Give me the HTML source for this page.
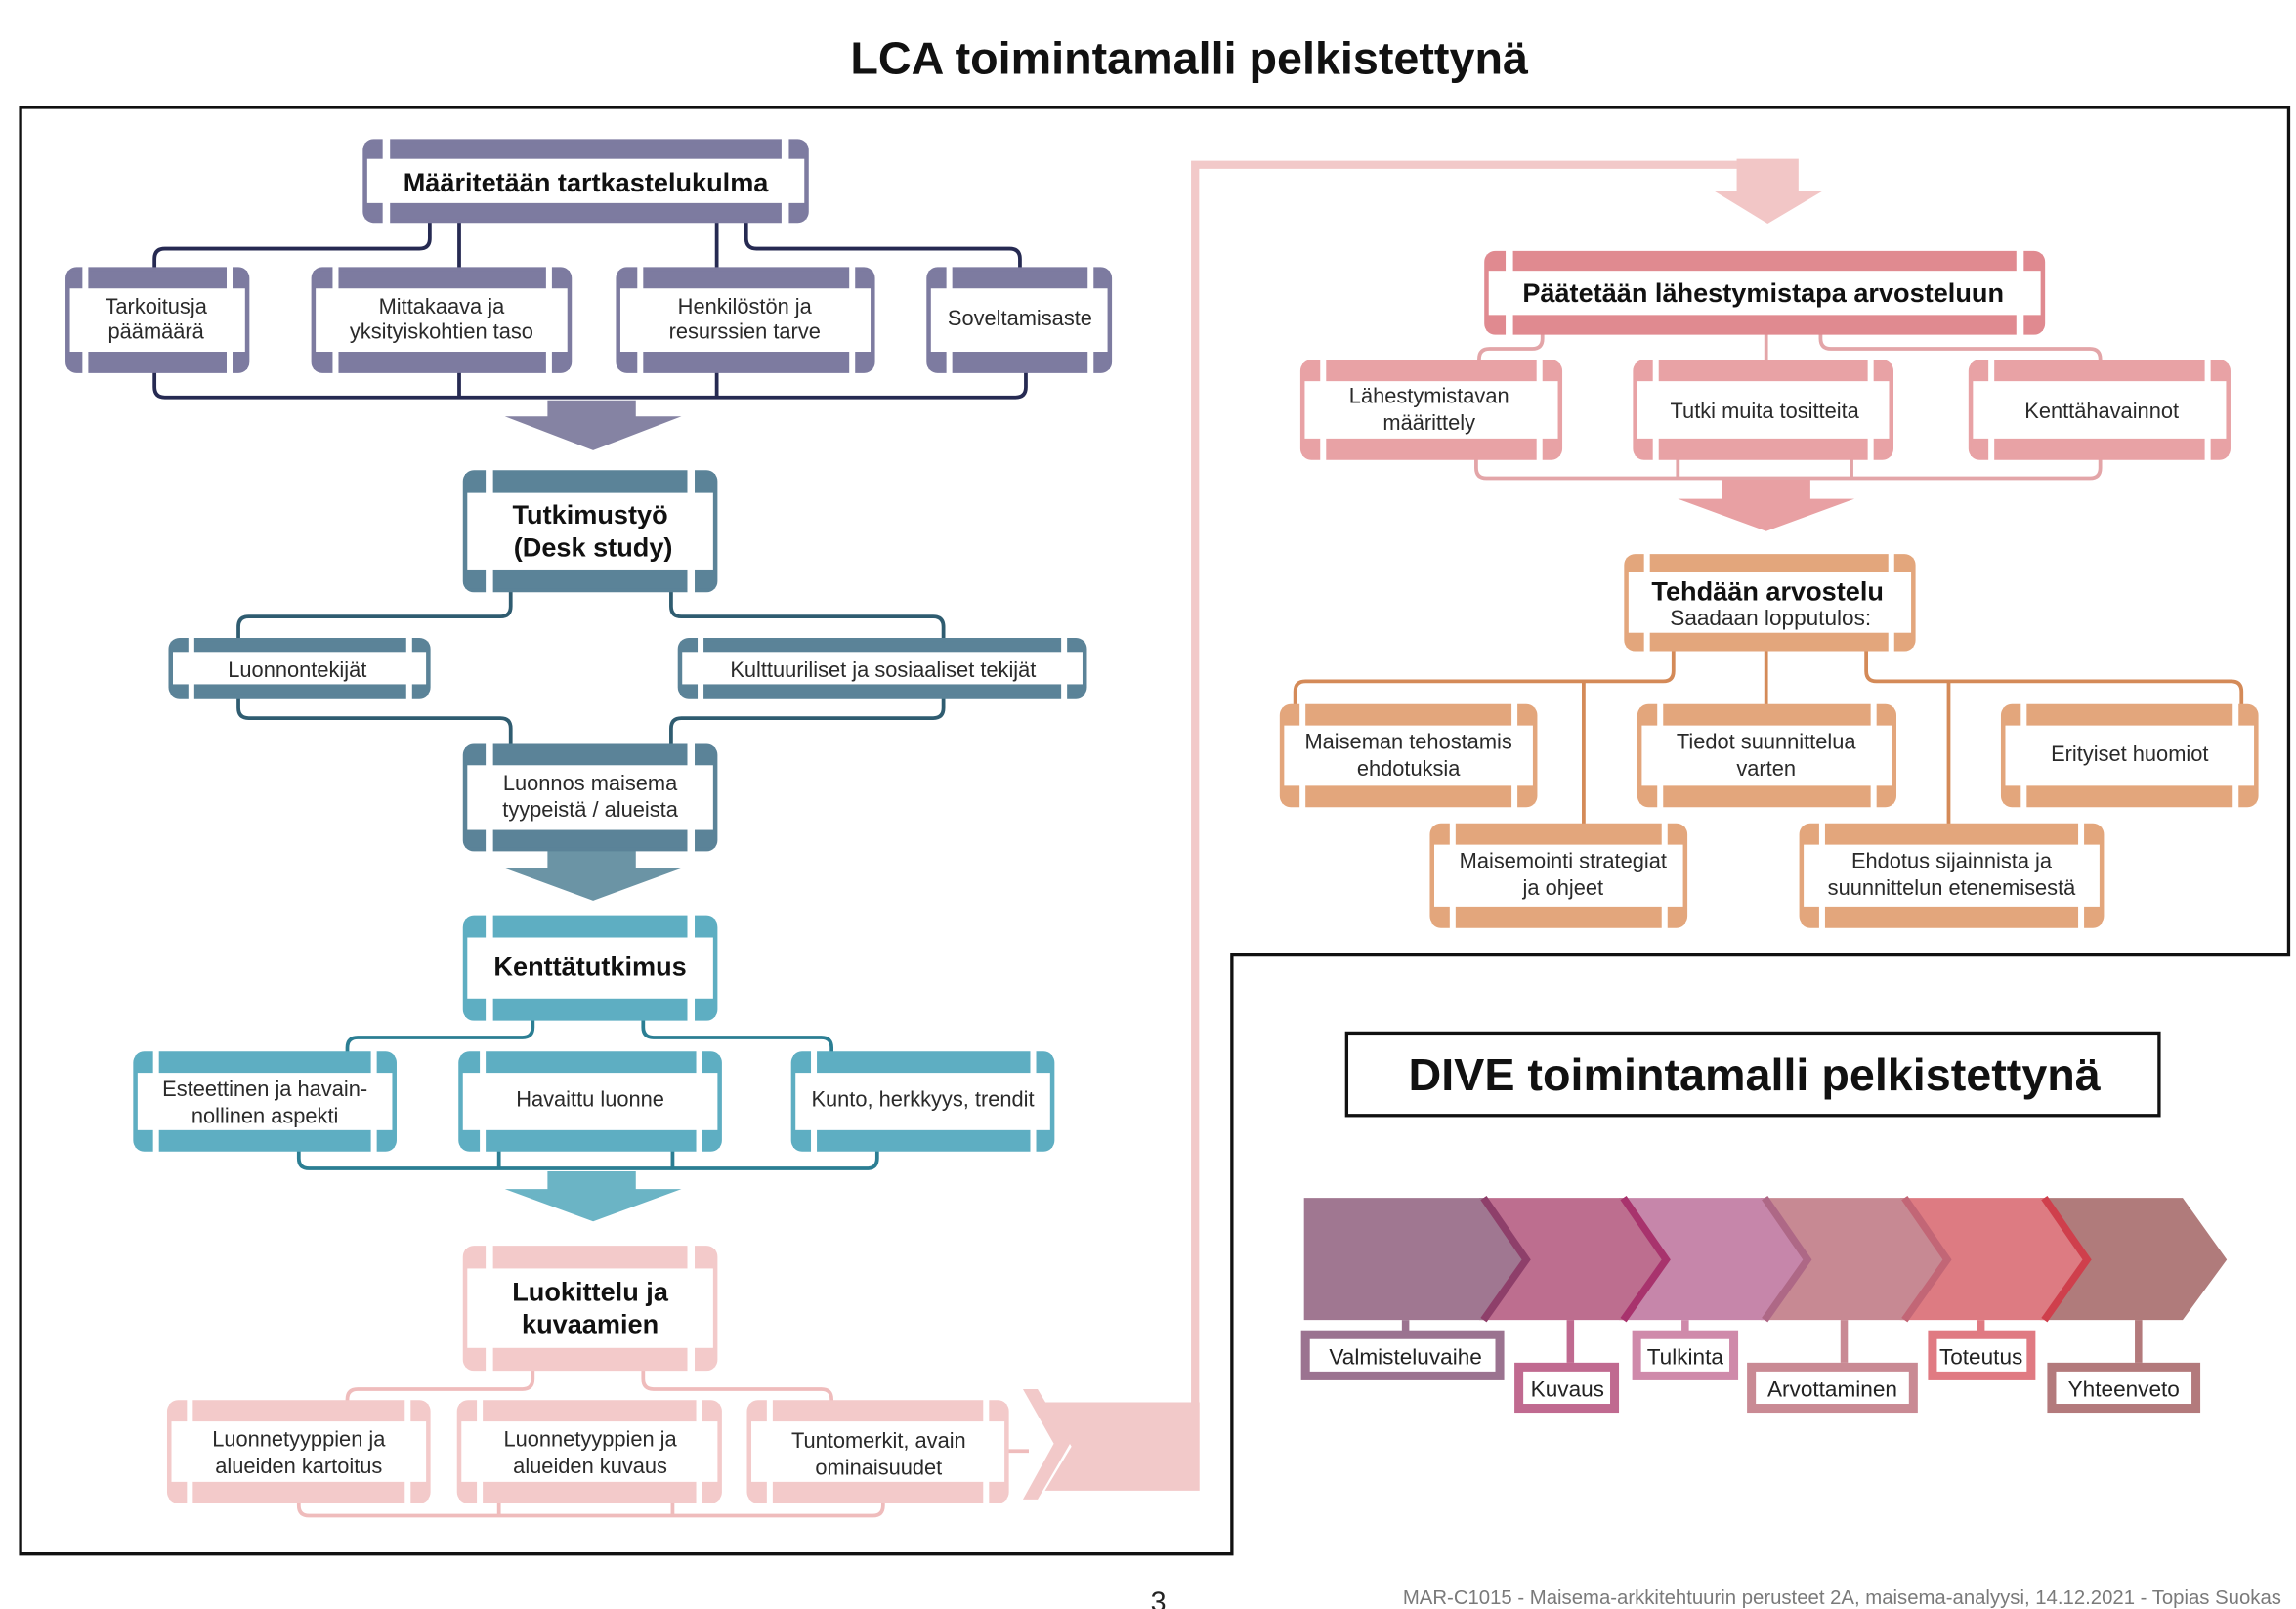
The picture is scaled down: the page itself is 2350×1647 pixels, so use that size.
<!DOCTYPE html>
<html><head><meta charset="utf-8"><style>
html,body{margin:0;padding:0;background:#fff}
svg{display:block}
text{font-family:"Liberation Sans",sans-serif}
.t{font-size:14.5px;fill:#2a2a2a;text-anchor:middle}
.b{font-size:18px;font-weight:bold;fill:#111;text-anchor:middle}
.d{font-size:15px;fill:#222;text-anchor:middle}
</style></head><body>
<svg width="2350" height="1647" viewBox="0 0 1560 1093.4" preserveAspectRatio="none" xmlns="http://www.w3.org/2000/svg">
<rect width="1560" height="1094" fill="#fff"/>
<text x="808" y="50" style="font-size:31px;font-weight:bold;text-anchor:middle;fill:#111">LCA toimintamalli pelkistettynä</text>
<path d="M14 73 H1555 V649 H837 V1056 H14 Z" fill="none" stroke="#111" stroke-width="2.2"/>

<!-- pink pipe -->
<path d="M812 1000 V112 H1203 V118" fill="none" stroke="#f2c9c9" stroke-width="5.5"/>
<polygon points="1180,108 1222,108 1222,130 1238,130 1201,152 1165,130 1180,130" fill="#f2c6c6"/>
<polygon points="710,953 815,953 815,1013 710,1013 728,983" fill="#f2c9c9"/>
<polygon points="695,944 705,944 727,981 705,1019 695,1019 716,981" fill="#f2c9c9"/>

<!-- purple connectors -->
<g fill="none" stroke="#262a52" stroke-width="2.5">
<path d="M292 150 V162 Q292 169 285 169 H112 Q105 169 105 176 V183"/>
<path d="M312 150 V183 M487 150 V183"/>
<path d="M507 150 V162 Q507 169 514 169 H686 Q693 169 693 176 V183"/>
<path d="M105 252 V263 Q105 270 112 270 H690 Q697 270 697 263 V252 M312 252 V270 M487 252 V270"/>
</g>
<polygon points="372,272 432,272 432,283 463,283 403,306 343,283 372,283" fill="#8583a3"/>

<!-- teal dark connectors -->
<g fill="none" stroke="#2f5c70" stroke-width="2.5">
<path d="M347 401 V412 Q347 419 340 419 H169 Q162 419 162 426 V435"/>
<path d="M456 401 V412 Q456 419 463 419 H634 Q641 419 641 426 V435"/>
<path d="M162 473 V481 Q162 488 169 488 H340 Q347 488 347 495 V507"/>
<path d="M641 473 V481 Q641 488 634 488 H463 Q456 488 456 495 V507"/>
</g>
<polygon points="372,577 432,577 432,590 463,590 403,612 343,590 372,590" fill="#6b94a5"/>

<!-- light teal connectors -->
<g fill="none" stroke="#2b7e93" stroke-width="2.5">
<path d="M362 692 V698 Q362 705 355 705 H243 Q236 705 236 712 V716"/>
<path d="M437 692 V698 Q437 705 444 705 H558 Q565 705 565 712 V716"/>
<path d="M203 781 V787 Q203 794 210 794 H589 Q596 794 596 787 V781 M339 781 V794 M457 781 V794"/>
</g>
<polygon points="372,796 432,796 432,808 463,808 403,830 343,808 372,808" fill="#6bb4c5"/>

<!-- pink connectors -->
<g fill="none" stroke="#efbcbc" stroke-width="2.5">
<path d="M362 930 V937 Q362 944 355 944 H243 Q236 944 236 951 V953"/>
<path d="M437 930 V937 Q437 944 444 944 H558 Q565 944 565 951 V953"/>
<path d="M203 1020 V1023 Q203 1030 210 1030 H593 Q600 1030 600 1023 V1020 M339 1020 V1030 M457 1020 V1030"/>
<path d="M684 986 H699"/>
</g>

<!-- salmon connectors -->
<g fill="none" stroke="#e3a5a8" stroke-width="2.5">
<path d="M1048 226 V230 Q1048 237 1041 237 H1012 Q1005 237 1005 244 V246"/>
<path d="M1200 226 V246"/>
<path d="M1237 226 V230 Q1237 237 1244 237 H1420 Q1427 237 1427 244 V246"/>
<path d="M1003 311 V318 Q1003 325 1010 325 H1420 Q1427 325 1427 318 V311 M1140 311 V325 M1258 311 V325"/>
</g>
<polygon points="1170,326 1230,326 1230,339 1260,339 1200,361 1140,339 1170,339" fill="#e8a0a3"/>

<!-- orange connectors -->
<g fill="none" stroke="#d48a58" stroke-width="2.5">
<path d="M1137 441 V456 Q1137 463 1130 463 H887 Q880 463 880 470 V480"/>
<path d="M1200 441 V480"/>
<path d="M1268 441 V456 Q1268 463 1275 463 H1516 Q1523 463 1523 470 V480"/>
<path d="M1076 463 V561 M1324 463 V561"/>
</g>

<!-- box template: outline + bands + gaps -->
<!-- Purple -->
<g id="pp">
<g fill="#fff" stroke="#7d7ba0" stroke-width="3"><rect x="248" y="96" width="300" height="54" rx="6"/></g>
<g fill="#7d7ba0"><rect x="248" y="97" width="300" height="11"/><rect x="248" y="138" width="300" height="11"/></g>
<g fill="#fff"><rect x="260" y="93" width="5" height="17"/><rect x="531" y="93" width="5" height="17"/><rect x="260" y="136" width="5" height="17"/><rect x="531" y="136" width="5" height="17"/></g>
</g>
<text class="b" x="398" y="130">Määritetään tartkastelukulma</text>

<g stroke="#7d7ba0" stroke-width="3" fill="#fff">
<rect x="46" y="183" width="122" height="69" rx="6"/>
<rect x="213" y="183" width="174" height="69" rx="6"/>
<rect x="420" y="183" width="173" height="69" rx="6"/>
<rect x="631" y="183" width="123" height="69" rx="6"/>
</g>
<g fill="#7d7ba0">
<rect x="46" y="184" width="122" height="12"/><rect x="46" y="239" width="122" height="12"/>
<rect x="213" y="184" width="174" height="12"/><rect x="213" y="239" width="174" height="12"/>
<rect x="420" y="184" width="173" height="12"/><rect x="420" y="239" width="173" height="12"/>
<rect x="631" y="184" width="123" height="12"/><rect x="631" y="239" width="123" height="12"/>
</g>
<g fill="#fff">
<rect x="56" y="180" width="4" height="18"/><rect x="154" y="180" width="4" height="18"/><rect x="56" y="237" width="4" height="18"/><rect x="154" y="237" width="4" height="18"/>
<rect x="226" y="180" width="4" height="18"/><rect x="371" y="180" width="4" height="18"/><rect x="226" y="237" width="4" height="18"/><rect x="371" y="237" width="4" height="18"/>
<rect x="433" y="180" width="4" height="18"/><rect x="577" y="180" width="4" height="18"/><rect x="433" y="237" width="4" height="18"/><rect x="577" y="237" width="4" height="18"/>
<rect x="643" y="180" width="4" height="18"/><rect x="739" y="180" width="4" height="18"/><rect x="643" y="237" width="4" height="18"/><rect x="739" y="237" width="4" height="18"/>
</g>
<text class="t" x="106" y="213">Tarkoitusja</text><text class="t" x="106" y="230">päämäärä</text>
<text class="t" x="300" y="213">Mittakaava ja</text><text class="t" x="300" y="230">yksityiskohtien taso</text>
<text class="t" x="506" y="213">Henkilöstön ja</text><text class="t" x="506" y="230">resurssien tarve</text>
<text class="t" x="693" y="221">Soveltamisaste</text>

<!-- Teal dark -->
<g stroke="#5b8398" stroke-width="3" fill="#fff">
<rect x="316" y="321" width="170" height="80" rx="6"/>
<rect x="116" y="435" width="175" height="38" rx="6"/>
<rect x="462" y="435" width="275" height="38" rx="6"/>
<rect x="316" y="507" width="170" height="70" rx="6"/>
</g>
<g fill="#5b8398">
<rect x="316" y="322" width="170" height="13"/><rect x="316" y="387" width="170" height="13"/>
<rect x="116" y="436" width="175" height="7"/><rect x="116" y="465" width="175" height="7"/>
<rect x="462" y="436" width="275" height="7"/><rect x="462" y="465" width="275" height="7"/>
<rect x="316" y="508" width="170" height="12"/><rect x="316" y="564" width="170" height="12"/>
</g>
<g fill="#fff">
<rect x="330" y="318" width="5" height="20"/><rect x="467" y="318" width="5" height="20"/><rect x="330" y="384" width="5" height="20"/><rect x="467" y="384" width="5" height="20"/>
<rect x="128" y="432" width="4" height="13"/><rect x="276" y="432" width="4" height="13"/><rect x="128" y="463" width="4" height="13"/><rect x="276" y="463" width="4" height="13"/>
<rect x="474" y="432" width="4" height="13"/><rect x="721" y="432" width="4" height="13"/><rect x="474" y="463" width="4" height="13"/><rect x="721" y="463" width="4" height="13"/>
<rect x="330" y="504" width="5" height="19"/><rect x="467" y="504" width="5" height="19"/><rect x="330" y="561" width="5" height="19"/><rect x="467" y="561" width="5" height="19"/>
</g>
<text class="b" x="401" y="356">Tutkimustyö</text><text class="b" x="403" y="378">(Desk study)</text>
<text class="t" x="202" y="460">Luonnontekijät</text>
<text class="t" x="600" y="460">Kulttuuriliset ja sosiaaliset tekijät</text>
<text class="t" x="401" y="537">Luonnos maisema</text><text class="t" x="401" y="555">tyypeistä / alueista</text>

<!-- Teal light -->
<g stroke="#5eaec2" stroke-width="3" fill="#fff">
<rect x="316" y="624" width="170" height="68" rx="6"/>
<rect x="92" y="716" width="176" height="65" rx="6"/>
<rect x="313" y="716" width="176" height="65" rx="6"/>
<rect x="539" y="716" width="176" height="65" rx="6"/>
</g>
<g fill="#5eaec2">
<rect x="316" y="625" width="170" height="12"/><rect x="316" y="679" width="170" height="12"/>
<rect x="92" y="717" width="176" height="12"/><rect x="92" y="768" width="176" height="12"/>
<rect x="313" y="717" width="176" height="12"/><rect x="313" y="768" width="176" height="12"/>
<rect x="539" y="717" width="176" height="12"/><rect x="539" y="768" width="176" height="12"/>
</g>
<g fill="#fff">
<rect x="330" y="621" width="5" height="19"/><rect x="467" y="621" width="5" height="19"/><rect x="330" y="676" width="5" height="19"/><rect x="467" y="676" width="5" height="19"/>
<rect x="104" y="713" width="4" height="19"/><rect x="252" y="713" width="4" height="19"/><rect x="104" y="765" width="4" height="19"/><rect x="252" y="765" width="4" height="19"/>
<rect x="326" y="713" width="4" height="19"/><rect x="473" y="713" width="4" height="19"/><rect x="326" y="765" width="4" height="19"/><rect x="473" y="765" width="4" height="19"/>
<rect x="551" y="713" width="4" height="19"/><rect x="700" y="713" width="4" height="19"/><rect x="551" y="765" width="4" height="19"/><rect x="700" y="765" width="4" height="19"/>
</g>
<text class="b" x="401" y="663">Kenttätutkimus</text>
<text class="t" x="180" y="745">Esteettinen ja havain-</text><text class="t" x="180" y="763">nollinen aspekti</text>
<text class="t" x="401" y="752">Havaittu luonne</text>
<text class="t" x="627" y="752">Kunto, herkkyys, trendit</text>

<!-- Pink -->
<g stroke="#f3caca" stroke-width="3" fill="#fff">
<rect x="316" y="848" width="170" height="82" rx="6"/>
<rect x="115" y="953" width="176" height="67" rx="6"/>
<rect x="312" y="953" width="177" height="67" rx="6"/>
<rect x="509" y="953" width="175" height="67" rx="6"/>
</g>
<g fill="#f3caca">
<rect x="316" y="849" width="170" height="13"/><rect x="316" y="916" width="170" height="13"/>
<rect x="115" y="954" width="176" height="12"/><rect x="115" y="1007" width="176" height="12"/>
<rect x="312" y="954" width="177" height="12"/><rect x="312" y="1007" width="177" height="12"/>
<rect x="509" y="954" width="175" height="12"/><rect x="509" y="1007" width="175" height="12"/>
</g>
<g fill="#fff">
<rect x="330" y="845" width="5" height="20"/><rect x="467" y="845" width="5" height="20"/><rect x="330" y="913" width="5" height="20"/><rect x="467" y="913" width="5" height="20"/>
<rect x="127" y="950" width="4" height="19"/><rect x="275" y="950" width="4" height="19"/><rect x="127" y="1004" width="4" height="19"/><rect x="275" y="1004" width="4" height="19"/>
<rect x="324" y="950" width="4" height="19"/><rect x="473" y="950" width="4" height="19"/><rect x="324" y="1004" width="4" height="19"/><rect x="473" y="1004" width="4" height="19"/>
<rect x="521" y="950" width="4" height="19"/><rect x="668" y="950" width="4" height="19"/><rect x="521" y="1004" width="4" height="19"/><rect x="668" y="1004" width="4" height="19"/>
</g>
<text class="b" x="401" y="884">Luokittelu ja</text><text class="b" x="401" y="906">kuvaamien</text>
<text class="t" x="203" y="983">Luonnetyyppien ja</text><text class="t" x="203" y="1001">alueiden kartoitus</text>
<text class="t" x="401" y="983">Luonnetyyppien ja</text><text class="t" x="401" y="1001">alueiden kuvaus</text>
<text class="t" x="597" y="984">Tuntomerkit, avain</text><text class="t" x="597" y="1002">ominaisuudet</text>

<!-- Salmon -->
<g stroke="#e08a90" stroke-width="3" fill="#fff"><rect x="1010" y="172" width="378" height="54" rx="6"/></g>
<g fill="#e08a90"><rect x="1010" y="173" width="378" height="11"/><rect x="1010" y="214" width="378" height="11"/></g>
<g stroke="#e8a2a5" stroke-width="3" fill="#fff">
<rect x="885" y="246" width="175" height="65" rx="6"/>
<rect x="1111" y="246" width="174" height="65" rx="6"/>
<rect x="1339" y="246" width="175" height="65" rx="6"/>
</g>
<g fill="#e8a2a5">
<rect x="885" y="247" width="175" height="12"/><rect x="885" y="298" width="175" height="12"/>
<rect x="1111" y="247" width="174" height="12"/><rect x="1111" y="298" width="174" height="12"/>
<rect x="1339" y="247" width="175" height="12"/><rect x="1339" y="298" width="175" height="12"/>
</g>
<g fill="#fff">
<rect x="1023" y="169" width="5" height="18"/><rect x="1370" y="169" width="5" height="18"/><rect x="1023" y="212" width="5" height="18"/><rect x="1370" y="212" width="5" height="18"/>
<rect x="897" y="243" width="4" height="19"/><rect x="1044" y="243" width="4" height="19"/><rect x="897" y="295" width="4" height="19"/><rect x="1044" y="295" width="4" height="19"/>
<rect x="1123" y="243" width="4" height="19"/><rect x="1269" y="243" width="4" height="19"/><rect x="1123" y="295" width="4" height="19"/><rect x="1269" y="295" width="4" height="19"/>
<rect x="1351" y="243" width="4" height="19"/><rect x="1498" y="243" width="4" height="19"/><rect x="1351" y="295" width="4" height="19"/><rect x="1498" y="295" width="4" height="19"/>
</g>
<text class="b" x="1198" y="205">Päätetään lähestymistapa arvosteluun</text>
<text class="t" x="971" y="274">Lähestymistavan</text><text class="t" x="971" y="292">määrittely</text>
<text class="t" x="1199" y="284">Tutki muita tositteita</text>
<text class="t" x="1428" y="284">Kenttähavainnot</text>

<!-- Orange -->
<g stroke="#e3a67c" stroke-width="3" fill="#fff">
<rect x="1105" y="378" width="195" height="63" rx="6"/>
<rect x="871" y="480" width="172" height="67" rx="6"/>
<rect x="1114" y="480" width="173" height="67" rx="6"/>
<rect x="1361" y="480" width="172" height="67" rx="6"/>
<rect x="973" y="561" width="172" height="68" rx="6"/>
<rect x="1224" y="561" width="204" height="68" rx="6"/>
</g>
<g fill="#e3a67c">
<rect x="1105" y="379" width="195" height="10"/><rect x="1105" y="430" width="195" height="10"/>
<rect x="871" y="481" width="172" height="12"/><rect x="871" y="534" width="172" height="12"/>
<rect x="1114" y="481" width="173" height="12"/><rect x="1114" y="534" width="173" height="12"/>
<rect x="1361" y="481" width="172" height="12"/><rect x="1361" y="534" width="172" height="12"/>
<rect x="973" y="562" width="172" height="12"/><rect x="973" y="616" width="172" height="12"/>
<rect x="1224" y="562" width="204" height="12"/><rect x="1224" y="616" width="204" height="12"/>
</g>
<g fill="#fff">
<rect x="1117" y="375" width="4" height="17"/><rect x="1283" y="375" width="4" height="17"/><rect x="1117" y="427" width="4" height="17"/><rect x="1283" y="427" width="4" height="17"/>
<rect x="883" y="477" width="4" height="19"/><rect x="1027" y="477" width="4" height="19"/><rect x="883" y="531" width="4" height="19"/><rect x="1027" y="531" width="4" height="19"/>
<rect x="1126" y="477" width="4" height="19"/><rect x="1271" y="477" width="4" height="19"/><rect x="1126" y="531" width="4" height="19"/><rect x="1271" y="531" width="4" height="19"/>
<rect x="1373" y="477" width="4" height="19"/><rect x="1517" y="477" width="4" height="19"/><rect x="1373" y="531" width="4" height="19"/><rect x="1517" y="531" width="4" height="19"/>
<rect x="985" y="558" width="4" height="19"/><rect x="1129" y="558" width="4" height="19"/><rect x="985" y="613" width="4" height="19"/><rect x="1129" y="613" width="4" height="19"/>
<rect x="1236" y="558" width="4" height="19"/><rect x="1412" y="558" width="4" height="19"/><rect x="1236" y="613" width="4" height="19"/><rect x="1412" y="613" width="4" height="19"/>
</g>
<text class="b" x="1201" y="408">Tehdään arvostelu</text>
<text class="t" x="1203" y="425" style="font-size:15px">Saadaan lopputulos:</text>
<text class="t" x="957" y="509">Maiseman tehostamis</text><text class="t" x="957" y="527">ehdotuksia</text>
<text class="t" x="1200" y="509">Tiedot suunnittelua</text><text class="t" x="1200" y="527">varten</text>
<text class="t" x="1447" y="517">Erityiset huomiot</text>
<text class="t" x="1062" y="590">Maisemointi strategiat</text><text class="t" x="1062" y="608">ja ohjeet</text>
<text class="t" x="1326" y="590">Ehdotus sijainnista ja</text><text class="t" x="1326" y="608">suunnittelun etenemisestä</text>

<!-- DIVE -->
<rect x="915" y="702" width="552" height="56" fill="#fff" stroke="#111" stroke-width="2.2"/>
<text x="1192" y="741" style="font-size:31px;font-weight:bold;text-anchor:middle;fill:#111">DIVE toimintamalli pelkistettynä</text>

<polygon points="1483,814 1513,856 1483,897 1386,897 1415,856 1386,814" fill="#b07b7b"/>
<polygon points="1391,814 1420,856 1391,897 1291,897 1320,856 1291,814" fill="#dd7b82"/>
<polygon points="1296,814 1325,856 1296,897 1196,897 1225,856 1196,814" fill="#c78993"/>
<polygon points="1201,814 1230,856 1201,897 1100,897 1129,856 1100,814" fill="#c686aa"/>
<polygon points="1105,814 1134,856 1105,897 1005,897 1034,856 1005,814" fill="#bd6e8f"/>
<polygon points="1010,814 1039,856 1010,897 886,897 886,814" fill="#a07791"/>
<g fill="none" stroke-width="5">
<path d="M1008 814 L1037 856 L1008 897" stroke="#8e3f6a"/>
<path d="M1103 814 L1132 856 L1103 897" stroke="#a8336d"/>
<path d="M1199 814 L1228 856 L1199 897" stroke="#ae6886"/>
<path d="M1294 814 L1323 856 L1294 897" stroke="#c26676"/>
<path d="M1389 814 L1418 856 L1389 897" stroke="#cf3f4c"/>
</g>
<g stroke-width="5">
<line x1="955" y1="897" x2="955" y2="908" stroke="#9b7390"/>
<line x1="1067" y1="897" x2="1067" y2="926" stroke="#c06a90"/>
<line x1="1145" y1="897" x2="1145" y2="908" stroke="#cf8aaa"/>
<line x1="1253" y1="897" x2="1253" y2="926" stroke="#c98a94"/>
<line x1="1346" y1="897" x2="1346" y2="908" stroke="#e07a82"/>
<line x1="1453" y1="897" x2="1453" y2="926" stroke="#b37a7c"/>
</g>
<g fill="#fff" stroke-width="6">
<rect x="887" y="907" width="132" height="28" stroke="#9b7390"/>
<rect x="1032" y="929" width="65" height="28" stroke="#c06a90"/>
<rect x="1112" y="907" width="66" height="28" stroke="#cf8aaa"/>
<rect x="1190" y="929" width="110" height="28" stroke="#c98a94"/>
<rect x="1313" y="907" width="67" height="28" stroke="#e07a82"/>
<rect x="1394" y="929" width="98" height="28" stroke="#b37a7c"/>
</g>
<text class="d" x="955" y="927">Valmisteluvaihe</text>
<text class="d" x="1065" y="949">Kuvaus</text>
<text class="d" x="1145" y="927">Tulkinta</text>
<text class="d" x="1245" y="949">Arvottaminen</text>
<text class="d" x="1346" y="927">Toteutus</text>
<text class="d" x="1443" y="949">Yhteenveto</text>

<text x="787" y="1095" style="font-size:19px;fill:#222;text-anchor:middle">3</text>
<text x="1550" y="1090" style="font-size:13.5px;fill:#7a7a7a;text-anchor:end">MAR-C1015 - Maisema-arkkitehtuurin perusteet 2A, maisema-analyysi, 14.12.2021 - Topias Suokas</text>
</svg>
</body></html>
